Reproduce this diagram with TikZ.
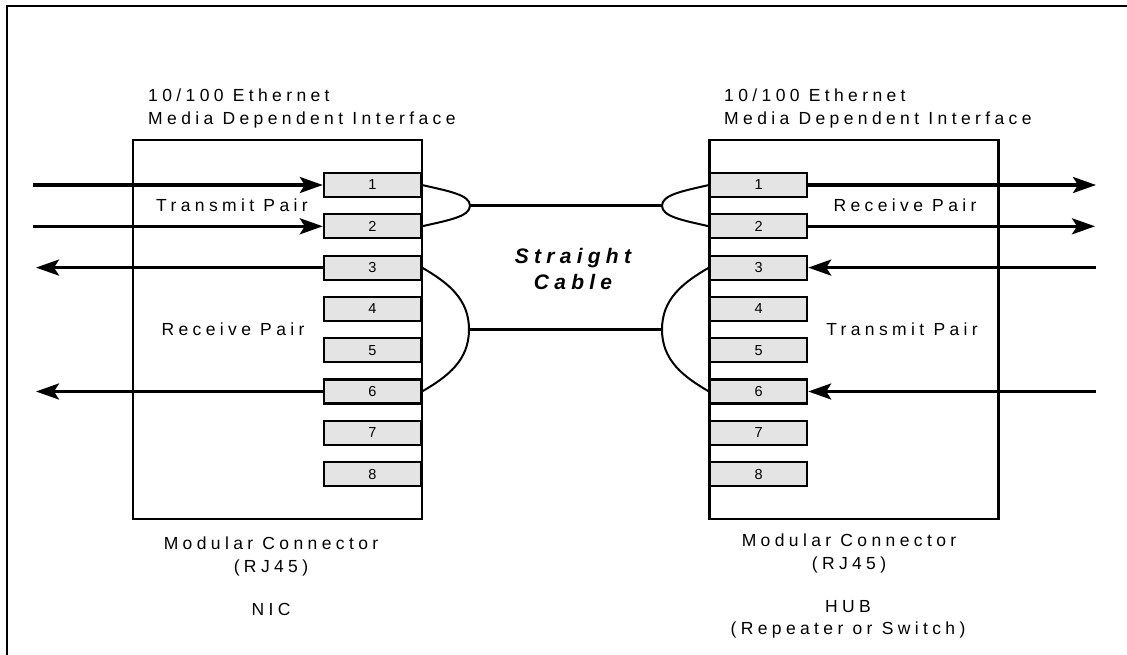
\documentclass[tikz,border=0pt]{standalone}
\usepackage{fontspec}
\setmainfont{Liberation Sans}
\newfontfamily\spaced[LetterSpace=25]{Liberation Sans}
\usetikzlibrary{arrows.meta}
\definecolor{pinfill}{RGB}{228,228,228}
\tikzset{
  chassis/.style={draw, line width=2.5pt, minimum width=289pt, minimum height=379pt, inner sep=0pt},
  jack/.style={draw, line width=2.2pt, fill=pinfill, minimum width=97pt, minimum height=24pt, inner sep=0pt, font=\fontsize{14.5}{16}\selectfont},
  sig/.style={line width=3.2pt, -{Stealth[length=23pt, width=16pt, inset=5pt]}},
  wire/.style={line width=2pt},
  cable/.style={line width=3.2pt},
  lbl/.style={font=\spaced\fontsize{17.5}{22.5}\selectfont, inner sep=0pt, align=center}
}
\begin{document}
\begin{tikzpicture}[x=1pt, y=1pt]
	\useasboundingbox (0,0) rectangle (1127,-655);
	\draw[line width=2pt] (6.5,-655) -- (6.5,-6) -- (1127,-6);

	% the two connector bodies
	\node[chassis] (nic) at (277.5,-329.5) {};
	\node[chassis] (hub) at (854,-329.5) {};
	\foreach \i in {1,...,8} {
		\node[jack, anchor=east] (l\i) at (422,{-185-41.3*(\i-1)}) {\i};
		\node[jack, anchor=west] (r\i) at (709,{-185-41.3*(\i-1)}) {\i};
	}

	% signal lines
	\coordinate (in1) at (33,-185);
	\coordinate (in2) at (33,-226.3);
	\coordinate (out3) at (36,-267.6);
	\coordinate (out6) at (36,-391.5);
	\coordinate (rx1) at (1096,-185);
	\coordinate (rx2) at (1095,-226.3);
	\coordinate (tx3) at (1096,-267.6);
	\coordinate (tx6) at (1096,-391.5);
	\draw[sig] (in1) -- (l1.west);
	\draw[sig] (in2) -- (l2.west);
	\draw[sig] (l3.west) -- (out3);
	\draw[sig] (l6.west) -- (out6);
	\draw[sig] (r1.east) -- (rx1);
	\draw[sig] (r2.east) -- (rx2);
	\draw[sig] (tx3) -- (r3.east);
	\draw[sig] (tx6) -- (r6.east);

	% straight cable
	\coordinate (ta) at (470,-205.7);
	\coordinate (tb) at (662,-205.7);
	\coordinate (ba) at (469,-329.5);
	\coordinate (bb) at (662,-329.5);
	\draw[wire] (l1.east) .. controls +(26,-6) and +(0,11) .. (ta) .. controls +(0,-11) and +(26,6) .. (l2.east);
	\draw[wire] (r1.west) .. controls +(-26,-6) and +(0,11) .. (tb) .. controls +(0,-11) and +(-26,6) .. (r2.west);
	\draw[wire] (l3.east) to[out=-30,in=90] (ba) to[out=-90,in=30] (l6.east);
	\draw[wire] (r3.west) to[out=-150,in=90] (bb) to[out=-90,in=150] (r6.west);
	\draw[cable] (ta) -- (tb);
	\draw[cable] (ba) -- (bb);

	% labels
	\node[lbl, anchor=north west, align=left] (nichead) at (148,-89) {10/100 Ethernet\\Media Dependent Interface};
	\node[lbl, anchor=north west, align=left] (hubhead) at (724,-89) {10/100 Ethernet\\Media Dependent Interface};
	\node[lbl] (nictx) at (232,-205.5) {Transmit Pair};
	\node[lbl] (nicrx) at (233,-329) {Receive Pair};
	\node[lbl] (hubrx) at (905,-205.5) {Receive Pair};
	\node[lbl] (hubtx) at (902,-329) {Transmit Pair};
	\node[lbl, font=\spaced\bfseries\itshape\fontsize{21}{26}\selectfont] (cab) at (573,-269) {Straight\\Cable};
	\node[lbl, anchor=north] (nicjack) at (271,-537) {Modular Connector\\(RJ45)};
	\node[lbl, anchor=north] (nicname) at (271,-603) {NIC};
	\node[lbl, anchor=north] (hubjack) at (849,-534) {Modular Connector\\(RJ45)};
	\node[lbl, anchor=north] (hubname) at (848,-600) {HUB\\(Repeater or Switch)};
\end{tikzpicture}
\end{document}
